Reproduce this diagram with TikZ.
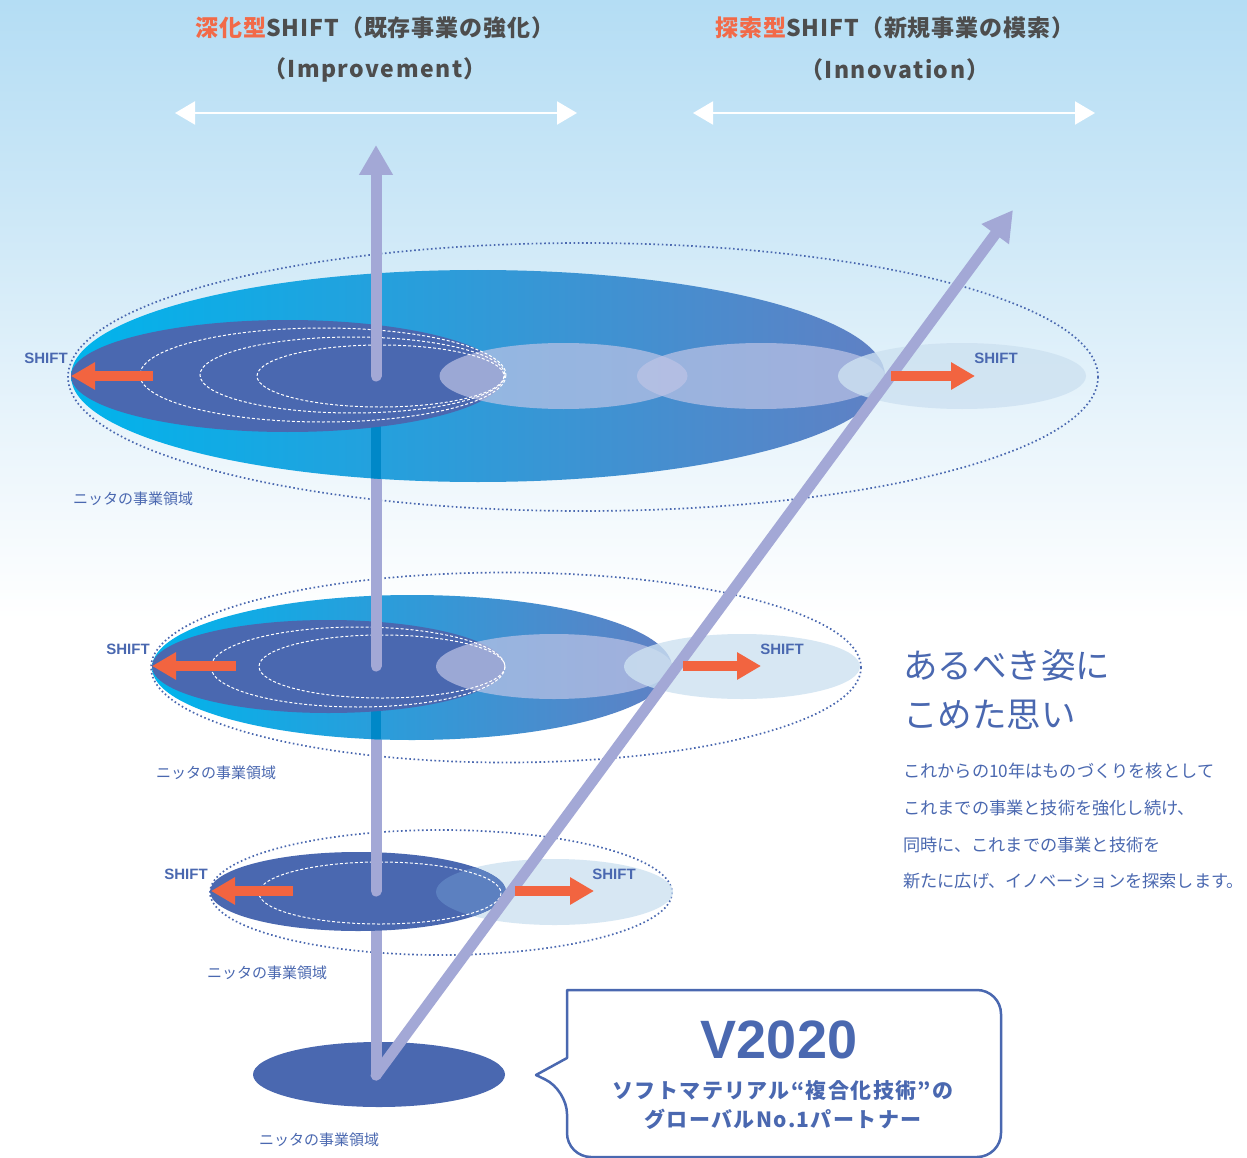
\documentclass[tikz,border=0pt]{standalone}
\usepackage{fontspec}
\newfontfamily\jp{Noto Sans CJK JP}
\newfontfamily\jpwide{Noto Sans CJK JP}[LetterSpace=4]
\newfontfamily\jpwider{Noto Sans CJK JP}[LetterSpace=6.5]
\newfontfamily\lat{Liberation Sans}
\usetikzlibrary{arrows.meta}

\definecolor{skyA}{RGB}{180,221,244}
\definecolor{skyB}{RGB}{203,231,247}
\definecolor{skyC}{RGB}{232,244,251}
\definecolor{ink}{RGB}{74,104,176}
\definecolor{axis}{RGB}{163,168,214}
\definecolor{shiftor}{RGB}{242,100,64}
\definecolor{titlegray}{RGB}{77,77,77}
\definecolor{accent}{RGB}{242,106,72}
\definecolor{cyanL}{RGB}{0,180,236}
\definecolor{blueR}{RGB}{96,128,196}
\definecolor{hazec}{RGB}{190,196,230}
\definecolor{palec}{RGB}{205,225,241}
\definecolor{strip}{RGB}{0,136,200}
\definecolor{lens}{RGB}{92,128,192}

\begin{document}
\begin{tikzpicture}[x=1pt,y=-1pt,
  orbit/.style={draw=ink, line width=1.7pt, dash pattern=on 1.6pt off 2.6pt},
  ring/.style={draw=white, line width=1pt, dash pattern=on 3pt off 2pt},
  core/.style={fill=ink},
  hazed/.style={fill=hazec, fill opacity=0.7},
  paled/.style={fill=palec, fill opacity=0.8},
  axisline/.style={draw=axis, line width=11pt, line cap=round},
  axishead/.style={-{Triangle[length=30pt,width=32pt]}},
  shiftarrow/.style={draw=shiftor, line width=10pt, -{Triangle[length=24pt,width=26pt]}},
  spanline/.style={draw=white, line width=2pt, {Triangle[length=20pt,width=23pt]}-{Triangle[length=20pt,width=23pt]}},
  shiftlbl/.style={font=\lat\bfseries\fontsize{15}{15}\selectfont, text=ink, inner sep=0pt},
  arealbl/.style={font=\jp\fontsize{15}{15}\selectfont, text=ink, inner sep=0pt},
  headline/.style={font=\jpwide\bfseries\fontsize{23}{23}\selectfont, text=titlegray, inner sep=0pt},
  subline/.style={font=\jpwider\bfseries\fontsize{23}{23}\selectfont, text=titlegray, inner sep=0pt},
]
\useasboundingbox (0,0) rectangle (1247,1158);

% sky
\fill[white] (0,0) rectangle (1247,1158);
\shade[top color=skyA, bottom color=skyB] (0,0) rectangle (1247,201);
\shade[top color=skyB, bottom color=skyC] (0,200) rectangle (1247,421);
\shade[top color=skyC, bottom color=white] (0,420) rectangle (1247,620);

% headings
\node[headline] (deepen) at (375,28) {{\color{accent}深化型}SHIFT（既存事業の強化）};
\node[subline] (deepenEn) at (375,70) {（Improvement）};
\node[headline] (explore) at (895,28) {{\color{accent}探索型}SHIFT（新規事業の模索）};
\node[subline] (exploreEn) at (895,70) {（Innovation）};

\coordinate (spanL1) at (175,113);
\coordinate (spanR1) at (577,113);
\coordinate (spanL2) at (693,113);
\coordinate (spanR2) at (1095,113);
\draw[spanline] (spanL1) -- (spanR1);
\draw[spanline] (spanL2) -- (spanR2);

% key points of the two axes
\coordinate (base) at (376,1075);
\coordinate (hub3) at (376,891);
\coordinate (hub2) at (376,666);
\coordinate (hub1) at (376,376);
\coordinate (apex) at (376,145);
\coordinate (reach) at (1013,210);

% dotted orbits
\draw[orbit] (583,377) ellipse [x radius=515, y radius=134];
\draw[orbit] (506,667.5) ellipse [x radius=355, y radius=95];
\draw[orbit] (441,892.5) ellipse [x radius=231, y radius=62.5];

% origin disc
\fill[core] (379,1074.5) ellipse [x radius=126, y radius=32.5];
\node[arealbl] (dom4) at (319,1140) {ニッタの事業領域};

\draw[axisline] (base) -- (hub3);

% lower tier
\fill[paled] (554.5,892) ellipse [x radius=118.5, y radius=33];
\fill[core] (358,891.5) ellipse [x radius=148, y radius=39.5];
\begin{scope}
  \clip (554.5,892) ellipse [x radius=118.5, y radius=33];
  \fill[lens] (358,891.5) ellipse [x radius=148, y radius=39.5];
\end{scope}
\draw[ring] (380,893) ellipse [x radius=121, y radius=31];
\node[arealbl] (dom3) at (267,973) {ニッタの事業領域};

\draw[axisline] (hub3) -- (hub2);

% middle tier
\shade[left color=cyanL, right color=blueR] (412,667.5) ellipse [x radius=260, y radius=72.5];
\begin{scope}
  \clip (412,667.5) ellipse [x radius=260, y radius=72.5];
  \fill[strip] (371,690) rectangle (381,745);
\end{scope}
\fill[core] (328.5,666.5) ellipse [x radius=176.5, y radius=46.5];
\fill[hazed] (554,666.5) ellipse [x radius=118, y radius=32.5];
\fill[paled] (742,666.5) ellipse [x radius=118, y radius=32.5];
\draw[ring] (358,667) ellipse [x radius=147, y radius=40];
\draw[ring] (382,666.5) ellipse [x radius=123, y radius=31.5];
\node[arealbl] (dom2) at (216,773) {ニッタの事業領域};

\draw[axisline] (hub2) -- (hub1);

% upper tier
\shade[left color=cyanL, right color=blueR] (478,376) ellipse [x radius=407, y radius=106];
\begin{scope}
  \clip (478,376) ellipse [x radius=407, y radius=106];
  \fill[strip] (371,400) rectangle (381,490);
\end{scope}
\fill[core] (287.5,376) ellipse [x radius=216.5, y radius=56];
\fill[hazed] (563.5,376) ellipse [x radius=124, y radius=33];
\fill[hazed] (761,376) ellipse [x radius=124, y radius=33];
\fill[paled] (962,376) ellipse [x radius=124, y radius=33];
\draw[ring] (323,375) ellipse [x radius=183, y radius=47];
\draw[ring] (352.5,375) ellipse [x radius=152.5, y radius=38];
\draw[ring] (380.5,376) ellipse [x radius=123.5, y radius=31];
\node[arealbl] (dom1) at (133,499) {ニッタの事業領域};

\draw[axisline, axishead] (hub1) -- (apex);

% exploration axis
\draw[axisline, axishead] (base) -- (reach);

% shift arrows
\coordinate (s1a) at (153,376);  \coordinate (s1b) at (71,376);
\coordinate (s2a) at (891,376);  \coordinate (s2b) at (975,376);
\coordinate (s3a) at (236,666);  \coordinate (s3b) at (152,666);
\coordinate (s4a) at (683,666);  \coordinate (s4b) at (761,666);
\coordinate (s5a) at (293,891);  \coordinate (s5b) at (211,891);
\coordinate (s6a) at (515,891);  \coordinate (s6b) at (594,891);
\draw[shiftarrow] (s1a) -- (s1b);
\draw[shiftarrow] (s2a) -- (s2b);
\draw[shiftarrow] (s3a) -- (s3b);
\draw[shiftarrow] (s4a) -- (s4b);
\draw[shiftarrow] (s5a) -- (s5b);
\draw[shiftarrow] (s6a) -- (s6b);

\node[shiftlbl] (sh1) at (46,358) {SHIFT};
\node[shiftlbl] (sh2) at (996,358) {SHIFT};
\node[shiftlbl] (sh3) at (128,649) {SHIFT};
\node[shiftlbl] (sh4) at (782,649) {SHIFT};
\node[shiftlbl] (sh5) at (186,874) {SHIFT};
\node[shiftlbl] (sh6) at (614,874) {SHIFT};

% statement
\node[anchor=north west, align=left, inner sep=0pt, text=ink,
      font=\jp\fontsize{34.5}{49}\selectfont] (motto) at (903,649) {あるべき姿に\\こめた思い};
\node[anchor=north west, align=left, inner sep=0pt, text=ink,
      font=\jp\fontsize{17.2}{36.7}\selectfont] (creed) at (903,763)
  {これからの10年はものづくりを核として\\これまでの事業と技術を強化し続け、\\同時に、これまでの事業と技術を\\新たに広げ、イノベーションを探索します。};

% callout
\draw[draw=ink, line width=2.5pt, fill=white, line join=round]
  (536,1075) -- (567,1058) -- (567,990) [rounded corners=24] -- (1001,990) -- (1001,1157)
  -- (567,1157) -- (567,1090) [sharp corners] -- cycle;
\node[font=\lat\bfseries\fontsize{54}{54}\selectfont, text=ink, inner sep=0pt] (vision) at (779,1040) {V2020};
\node[font=\jpwider\bfseries\fontsize{21}{29}\selectfont, text=ink, align=center, inner sep=0pt] (tagline) at (783,1105)
  {ソフトマテリアル“複合化技術”の\\グローバルNo.1パートナー};
\end{tikzpicture}
\end{document}
